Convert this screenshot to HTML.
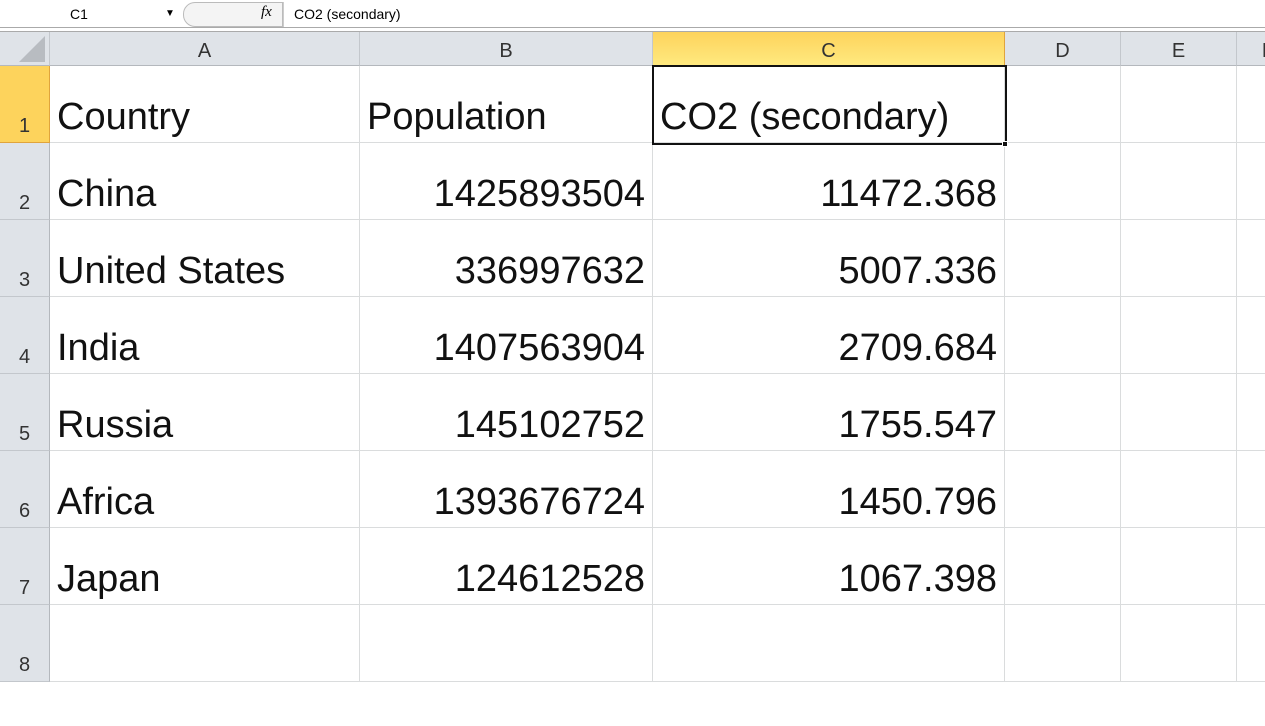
<!DOCTYPE html>
<html><head><meta charset="utf-8"><style>
body{margin:0;width:1265px;height:621px;overflow:hidden;background:#fff;font-family:"Liberation Sans",sans-serif;position:relative}
.a{position:absolute;box-sizing:border-box}
.ch{top:32px;height:34px;background:#dfe3e8;border-right:1px solid #c3c7cc;border-bottom:1px solid #b4b8bd;font-size:20px;color:#333;text-align:center;line-height:38px}
.rh{left:0;width:50px;background:#dfe3e8;border-right:1px solid #b4b8bd;border-bottom:1px solid #c3c7cc;font-size:20px;color:#333;text-align:center;box-sizing:border-box}
.cell{border-right:1px solid #dadcdd;border-bottom:1px solid #dadcdd;font-size:38px;color:#111;white-space:nowrap;overflow:visible;padding:0 7px;display:flex;align-items:flex-end;padding-bottom:3px}
.r{justify-content:flex-end}
</style></head><body>
<div class="a" style="left:0;top:0;width:1265px;height:28px;background:#fff;border-bottom:1px solid #aaa"></div>
<div class="a" style="left:0;top:2px;width:182px;height:24px;font-size:14px;line-height:24px;padding-left:70px">C1<span style="position:absolute;left:165px;font-size:10px">▼</span></div>
<div class="a" style="left:183px;top:2px;width:100px;height:25px;border:1px solid #bbb;border-radius:12px 0 0 12px;background:#f4f4f4"></div>
<div class="a" style="left:261px;top:4px;font-size:15px;font-style:italic;font-family:'Liberation Serif',serif">fx</div>
<div class="a" style="left:283px;top:2px;width:982px;height:25px;border-left:1px solid #ccc;font-size:14px;line-height:25px;padding-left:10px">CO2 (secondary)</div>
<div class="a" style="left:0;top:28px;width:1265px;height:4px;background:#fff;border-bottom:1px solid #aaa"></div>
<div class="a ch" style="left:0;width:50px"><div style="position:absolute;right:4px;bottom:3px;width:0;height:0;border-left:26px solid transparent;border-bottom:26px solid #b8bcc1"></div></div>
<div id="g"></div>
<script>
const colNames=["A","B","C","D","E","F"];
const colX=[50,360,653,1005,1121,1237,1300];
const countries=["Country","China","United States","India","Russia","Africa","Japan"];
const population=["Population","1425893504","336997632","1407563904","145102752","1393676724","124612528"];
const co2=["CO2 (secondary)","11472.368","5007.336","2709.684","1755.547","1450.796","1067.398"];
const g=document.getElementById('g');
function mk(cls,st,txt){const d=document.createElement('div');d.className='a '+cls;d.style.cssText=st;if(txt!==undefined)d.textContent=txt;g.appendChild(d);return d;}
colNames.forEach((n,i)=>{
 const sel=i===2;
 const d=mk('ch',`left:${colX[i]}px;width:${colX[i+1]-colX[i]}px;`+(sel?'background:linear-gradient(#fdd35c,#ffe97f);border-right:1px solid #e0a43c;border-bottom:1px solid #e0a43c':''),n);
 
 
});
const top0=66,rh=77;
for(let r=0;r<8;r++){
 const y=top0+r*rh;
 const d=mk('rh',`top:${y}px;height:${rh}px;line-height:${rh+44}px;`+(r===0?'background:#fdd35c;border-bottom:1px solid #e0a43c;border-right:1px solid #e0a43c':''),String(r+1));
 
 
 for(let c=0;c<6;c++){
  let t='',right=false;
  if(r<7){
   if(c===0)t=countries[r];
   if(c===1){t=population[r];right=r>0;}
   if(c===2){t=co2[r];right=r>0;}
  }
  const e=mk('cell'+(right?' r':''),`left:${colX[c]}px;top:${y}px;width:${colX[c+1]-colX[c]}px;height:${rh}px`,t);
  
  
 }
}
const s=mk('','left:652px;top:65px;width:355px;height:80px;border:2px solid #111');


const h=mk('','left:1002px;top:141px;width:6px;height:6px;background:#111;border:1px solid #fff');


</script>
</body></html>
